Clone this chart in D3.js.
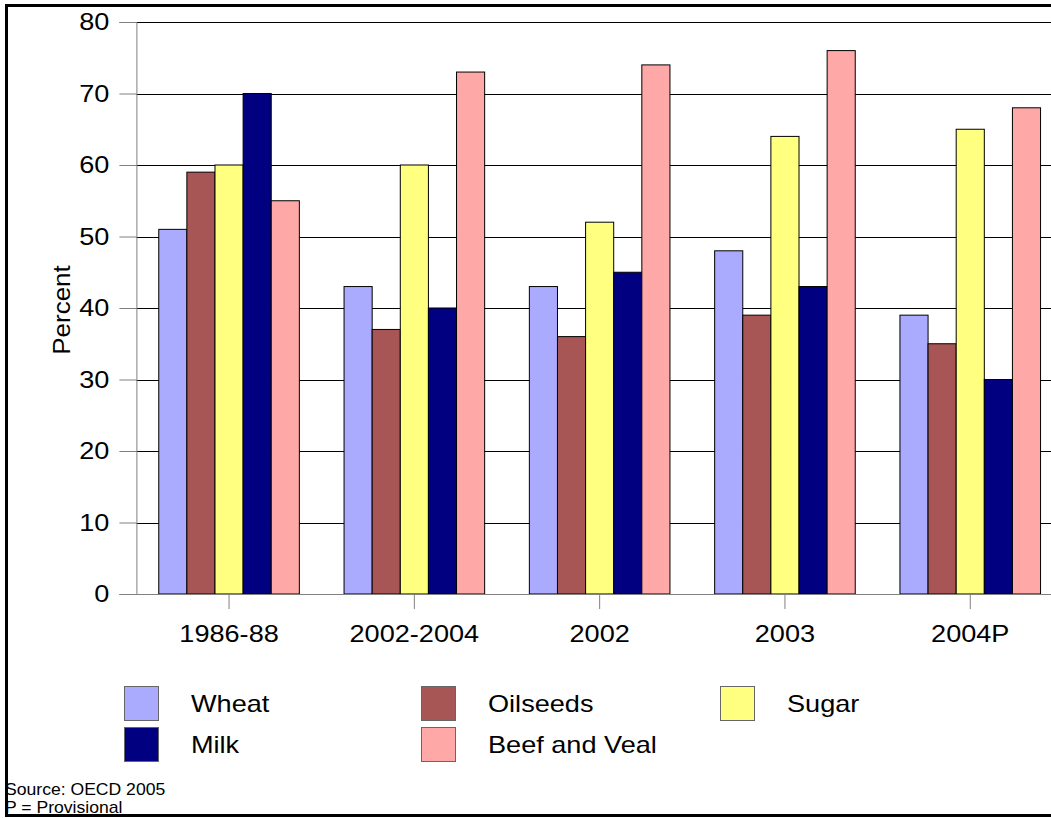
<!DOCTYPE html>
<html>
<head>
<meta charset="utf-8">
<script src="https://cdn.jsdelivr.net/npm/d3@7"></script>
<style>
html,body{margin:0;padding:0;background:#fff;}
svg{display:block;font-family:"Liberation Sans",Arial,sans-serif;}
</style>
</head>
<body>
<svg id="chart" width="1051" height="818"></svg>
<script>
const categories = ["1986-88","2002-2004","2002","2003","2004P"];
const seriesNames = ["Wheat","Oilseeds","Sugar","Milk","Beef and Veal"];
const seriesColors = ["#AAAAFF","#A85555","#FFFF80","#000080","#FFA8A8"];
const wheat    = [51,43,43,48,39];
const oilseeds = [59,37,36,39,35];
const sugar    = [60,60,52,64,65];
const milk     = [70,40,45,43,30];
const beef     = [55,73,74,76,68];
const yTicks = [0,10,20,30,40,50,60,70,80];
const seriesValues = [wheat, oilseeds, sugar, milk, beef];

(function(){
const svg = d3.select("#chart");
const plotLeft = 136.4, bandW = 185.3, plotTop = 22, plotBottom = 594;
const SX = 1.13;

const x0 = d3.scaleBand().domain(categories).range([plotLeft, plotLeft + bandW*categories.length]).padding(0);
const gap = 44.7;
const x1 = d3.scaleBand().domain(seriesNames).range([gap/2, x0.bandwidth()-gap/2]).padding(0);
const y = d3.scaleLinear().domain([0,80]).range([plotBottom, plotTop]);

// gridlines
svg.append("g").selectAll("line").data(yTicks.filter(d=>d>0)).join("line")
  .attr("x1", plotLeft).attr("x2", 1100)
  .attr("y1", d=>Math.round(y(d))+0.5).attr("y2", d=>Math.round(y(d))+0.5)
  .attr("stroke","#000").attr("stroke-width",1);

// bars
const groups = svg.append("g").selectAll("g").data(categories).join("g")
  .attr("transform", c=>`translate(${x0(c)},0)`);
groups.selectAll("rect").data((c,i)=>seriesNames.map((s,j)=>({s, v: seriesValues[j][i], color: seriesColors[j]}))).join("rect")
  .attr("x", d=>x1(d.s)).attr("width", x1.bandwidth())
  .attr("y", d=>y(d.v)).attr("height", d=>y(0)-y(d.v))
  .attr("fill", d=>d.color).attr("stroke","#000").attr("stroke-width",1);

// y axis
const yAxis = d3.axisLeft(y).tickValues(yTicks).tickSize(17).tickPadding(10);
const gy = svg.append("g").attr("transform",`translate(${plotLeft},0)`).call(yAxis);
gy.select(".domain").attr("stroke","#808080");
gy.selectAll(".tick line").attr("stroke","#808080");
gy.selectAll(".tick text").attr("font-size",24).attr("fill","#000")
  .attr("font-family","Liberation Sans, Arial, sans-serif")
  .attr("x", -27/SX).attr("transform",`scale(${SX},1)`);

// x axis
const xAxis = d3.axisBottom(x0).tickSize(15).tickPadding(16).tickSizeOuter(0);
const gx = svg.append("g").attr("transform",`translate(0,${plotBottom})`).call(xAxis);
gx.select(".domain").attr("stroke","#808080").attr("d",`M${plotLeft},0.5H1100`);
gx.selectAll(".tick line").attr("stroke","#808080");
gx.selectAll(".tick text").attr("font-size",24).attr("fill","#000")
  .attr("font-family","Liberation Sans, Arial, sans-serif")
  .attr("transform",`scale(${SX},1)`);

// y label
svg.append("text").attr("transform",`translate(70,310) rotate(-90) scale(${SX},1)`)
  .attr("text-anchor","middle").attr("font-size",23).text("Percent");

// legend
const legendPos = [[124,686],[421,686],[720,686],[124,727],[421,727]];
const lg = svg.append("g").selectAll("g").data(seriesNames).join("g")
  .attr("transform",(d,i)=>`translate(${legendPos[i][0]},${legendPos[i][1]})`);
lg.append("rect").attr("x",0.5).attr("y",0.5).attr("width",34).attr("height",34)
  .attr("fill",(d,i)=>seriesColors[i]).attr("stroke","#666").attr("stroke-width",1);
lg.append("text").attr("transform",`translate(67,26) scale(${SX},1)`).attr("font-size",24).text(d=>d);

// source notes
svg.append("text").attr("transform",`translate(5,795) scale(1.1,1)`).attr("font-size",16).text("Source: OECD 2005");
svg.append("text").attr("transform",`translate(5,813) scale(1.1,1)`).attr("font-size",16).text("P = Provisional");

// frame
svg.append("rect").attr("x",6.5).attr("y",5.5).attr("width",1100).attr("height",810)
  .attr("fill","none").attr("stroke","#000").attr("stroke-width",3);
})();
</script>
</body>
</html>
